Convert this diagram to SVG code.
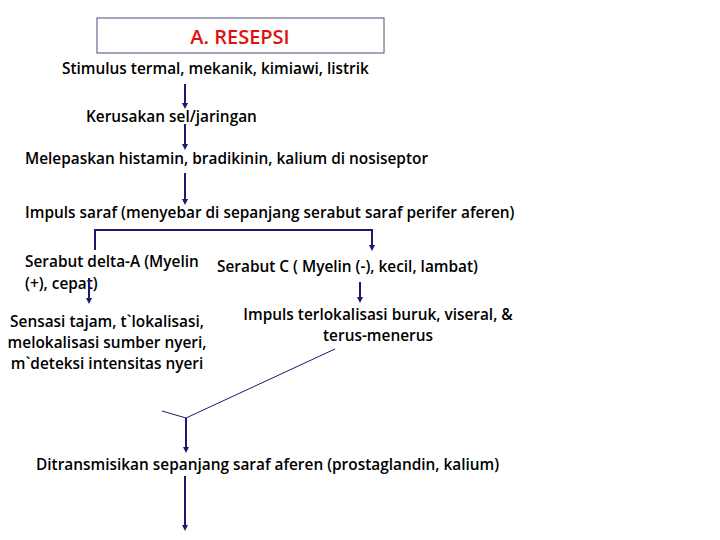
<svg xmlns="http://www.w3.org/2000/svg" width="720" height="540" viewBox="0 0 720 540">
<style>
text{font-family:"Open Sans","Noto Sans",sans-serif;font-size:15.4px;font-weight:600;fill:#000}
.c{text-anchor:middle}
.a{stroke:#1a1a6e;stroke-width:2;fill:none}
.t{stroke:#1a1a6e;stroke-width:1;fill:none}
</style>
<defs><marker id="m" markerWidth="6" markerHeight="6" refX="3" refY="3" orient="auto" markerUnits="userSpaceOnUse" viewBox="0 0 6 6"><path d="M0,0L6,3L0,6Z" fill="#1a1a6e"/></marker></defs>
<rect width="720" height="540" fill="#fff"/>
<g id="title"><rect x="97" y="18" width="287" height="35" fill="#fff" stroke="#4a4a7a"/><text x="240" y="44" class="c" style="fill:#e01010;font-size:20px">A. RESEPSI</text></g>
<g id="n1"><text x="62" y="74">Stimulus termal, mekanik, kimiawi, listrik</text></g>
<g id="n2"><text x="86" y="122">Kerusakan sel/jaringan</text></g>
<g id="n3"><text x="25" y="164">Melepaskan histamin, bradikinin, kalium di nosiseptor</text></g>
<g id="n4"><text x="25" y="218">Impuls saraf (menyebar di sepanjang serabut saraf perifer aferen)</text></g>
<g id="n5"><text x="25" y="267">Serabut delta-A (Myelin</text><text x="25" y="289">(+), cepat)</text></g>
<g id="n6"><text x="217" y="272">Serabut C ( Myelin (-), kecil, lambat)</text></g>
<g id="n7"><text x="107" y="327" class="c">Sensasi tajam, t`lokalisasi,</text><text x="107" y="348" class="c">melokalisasi sumber nyeri,</text><text x="107" y="369" class="c">m`deteksi intensitas nyeri</text></g>
<g id="n8"><text x="378" y="320" class="c">Impuls terlokalisasi buruk, viseral, &amp;</text><text x="378" y="341" class="c">terus-menerus</text></g>
<g id="n9"><text x="36" y="470">Ditransmisikan sepanjang saraf aferen (prostaglandin, kalium)</text></g>
<g id="connectors">
<path class="a" d="M185,84V106" marker-end="url(#m)"/>
<path class="a" d="M185,124V147" marker-end="url(#m)"/>
<path class="a" d="M185,173V202" marker-end="url(#m)"/>
<path class="a" d="M95,250V230H372V248" marker-end="url(#m)"/>
<path class="a" d="M89,278V301" marker-end="url(#m)"/>
<path class="a" d="M360,282V300" marker-end="url(#m)"/>
<path class="t" d="M335,349L186,418L162,411"/>
<path class="a" d="M186,418V450" marker-end="url(#m)"/>
<path class="a" d="M185,476V528" marker-end="url(#m)"/>
</g>
</svg>
